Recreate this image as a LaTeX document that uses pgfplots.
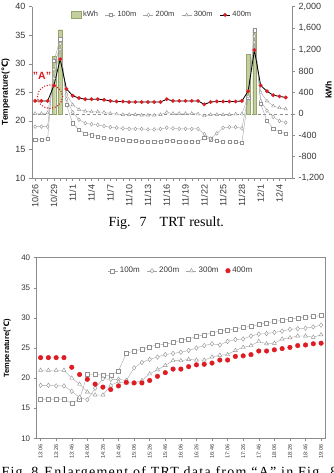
\documentclass[border=0pt]{standalone}
\usepackage{fontspec}
\setmainfont{Liberation Sans}
\newfontfamily\timesfont{Liberation Serif}
\newfontfamily\captwo[LetterSpace=9]{Liberation Serif}
\newfontfamily\dejavu{DejaVu Sans}
\usepackage{pgfplots}
\usepackage{pgfplotstable}
\pgfplotsset{compat=1.18}

\definecolor{kwhfill}{RGB}{196,207,160}
\definecolor{kwhdraw}{RGB}{150,165,105}
\definecolor{rd}{RGB}{222,28,36}
\definecolor{ln}{RGB}{165,165,165}
\definecolor{mk}{RGB}{145,145,145}
\definecolor{ax}{RGB}{140,140,140}
\definecolor{tl}{RGB}{55,55,55}

\pgfplotstableread{
d a b c e
0 16.7 19.0 21.3 23.5
1 16.7 19.0 21.3 23.5
2 16.9 19.0 21.4 23.5
3 30.5 29.0 27.5 26.2
4 34.3 33.5 32.5 30.8
5 22.8 23.8 24.7 25.6
6 19.6 21.5 22.8 24.4
7 18.4 20.2 22.0 24.0
8 17.8 19.6 21.7 23.8
9 17.5 19.4 21.6 23.8
10 17.3 19.3 21.6 23.8
11 17.1 19.1 21.5 23.7
12 16.9 18.9 21.3 23.5
13 16.8 18.8 21.2 23.4
14 16.7 18.7 21.1 23.4
15 16.6 18.6 21.1 23.3
16 16.5 18.6 21.1 23.3
17 16.4 18.6 21.0 23.3
18 16.3 18.5 21.0 23.3
19 16.3 18.5 21.0 23.3
20 16.4 18.6 21.1 23.3
21 16.6 18.8 21.5 23.8
22 16.5 18.7 21.3 23.5
23 16.4 18.6 21.3 23.5
24 16.4 18.6 21.3 23.5
25 16.4 18.6 21.3 23.5
26 16.4 18.6 21.2 23.5
27 17.0 17.7 20.9 22.9
28 16.8 16.9 21.1 23.3
29 16.5 17.8 21.1 23.4
30 16.3 18.8 21.1 23.4
31 16.3 18.9 21.1 23.4
32 16.3 18.9 21.2 23.4
33 16.2 18.7 21.2 23.5
34 24.0 24.3 24.3 25.2
35 35.9 34.8 33.8 32.4
36 23.0 23.5 25.0 26.2
37 20.0 21.8 23.5 25.2
38 18.7 20.7 22.6 24.5
39 18.1 20.0 22.3 24.3
40 17.7 19.7 22.1 24.1
}\tabA

\pgfplotstableread{
x k
3 1070
4 1570
34 1110
35 1590
}\tabK

\pgfplotstableread{
i a b c e
0 16.5 18.8 21.3 23.4
1 16.5 18.8 21.3 23.4
2 16.5 18.7 21.3 23.4
3 16.5 18.7 21.3 23.4
4 15.8 17.8 20.0 21.8
5 16.5 16.8 19.0 20.6
6 20.6 16.4 17.7 19.8
7 20.6 18.3 17.2 19.0
8 20.5 19.9 17.2 18.5
9 20.4 19.8 18.8 18.1
10 21.2 19.8 19.4 18.7
11 24.1 19.6 19.2 19.3
12 24.5 21.7 19.2 19.2
13 24.8 22.6 19.6 19.2
14 25.2 23.1 20.7 19.6
15 25.5 23.5 21.4 20.3
16 25.6 23.9 22.1 20.9
17 25.9 24.1 22.9 21.5
18 26.3 24.3 22.9 21.5
19 26.5 24.6 23.1 21.9
20 26.9 25.0 23.0 22.2
21 27.2 25.4 23.0 22.3
22 27.5 25.7 23.5 22.5
23 27.8 25.5 23.8 23.0
24 28.0 26.1 23.9 23.0
25 28.2 26.4 24.6 23.6
26 28.4 26.5 25.1 23.7
27 28.6 27.0 25.4 23.9
28 28.9 27.3 26.1 24.5
29 29.2 27.4 25.7 24.5
30 29.4 27.6 25.8 24.7
31 29.6 27.8 26.5 24.9
32 29.8 28.1 26.7 25.1
33 30.0 28.2 27.0 25.4
34 30.1 28.3 27.0 25.5
35 30.2 28.5 26.8 25.7
36 30.4 28.8 27.2 25.8
}\tabB

\pgfplotsset{
  s100/.style={color=ln, line width=0.4pt, mark=square*, mark size=#1,
    mark options={fill=white, draw=mk, line width=0.4pt, solid}},
  s200/.style={color=ln, line width=0.4pt, mark=diamond*, mark size=#1,
    mark options={fill=white, draw=mk, line width=0.4pt, solid}},
  s300/.style={color=ln, line width=0.4pt, mark=triangle*, mark size=#1,
    mark options={fill=white, draw=mk, line width=0.4pt, solid}},
  lineleg/.style={legend image code/.code={%
    \draw[mark repeat=2, mark phase=2] plot coordinates {(0pt,0pt) (5pt,0pt) (10pt,0pt)};}},
}

\begin{document}
\begin{tikzpicture}[x=1pt,y=1pt]
% ---------- Fig 7: kWh axis (behind) ----------
\begin{axis}[
  at={(32pt,295pt)}, anchor=south west, scale only axis,
  width=260pt, height=171.3pt,
  xmin=-0.5, xmax=41, ymin=-1200, ymax=2000,
  axis x line=none, axis y line*=right,
  axis line style={draw=ax, line width=0.6pt},
  tick align=outside, major tick length=3pt,
  tick style={draw=ax, line width=0.5pt},
  ytick={-1200,-800,...,2000},
  /pgf/number format/assume math mode=true,
  /pgf/number format/1000 sep={,},
  yticklabel style={font=\fontsize{9}{10}\selectfont, text=tl},
]
\addplot[draw=ax, line width=0.5pt, dash pattern=on 3pt off 2.5pt] coordinates {(-0.5,0) (41,0)};
\addplot[ybar, bar width=3.5pt, fill=kwhfill, draw=kwhdraw, line width=0.3pt] table[x=x,y=k]{\tabK};
\end{axis}
% ---------- Fig 7: temperature axis ----------
\begin{axis}[
  at={(32pt,295pt)}, anchor=south west, scale only axis,
  width=260pt, height=171.3pt,
  xmin=-0.5, xmax=41, ymin=10, ymax=40,
  axis x line*=bottom, axis y line*=left,
  axis line style={draw=ax, line width=0.6pt},
  tick align=outside, major tick length=3pt, minor tick length=3pt,
  tick style={draw=ax, line width=0.5pt},
  ytick={10,15,...,40},
  xtick={0,3,...,39},
  minor xtick={0,...,40},
  xticklabels={10/26,10/29,11/1,11/4,11/7,11/10,11/13,11/16,11/19,11/22,11/25,11/28,12/1,12/4},
  xticklabel style={rotate=90, anchor=east, font=\fontsize{9}{10}\selectfont, text=tl},
  yticklabel style={font=\fontsize{9}{10}\selectfont, text=tl},
  /pgf/number format/assume math mode=true,
  lineleg,
  legend style={at={(0.5,0.985)}, anchor=north, draw=none, fill=none,
    font=\fontsize{7.5}{8}\selectfont, text=tl, inner sep=0pt,
    /tikz/every even column/.append style={column sep=5pt}},
  legend columns=5,
]
\addlegendimage{legend image code/.code={\draw[fill=kwhfill, draw=kwhdraw, line width=0.3pt] (0pt,-3.5pt) rectangle (10pt,3.5pt);}}
\addlegendentry{kWh}
\addplot[s100=1.6pt] table[x=d,y=a]{\tabA};
\addlegendentry{100m}
\addplot[s200=1.9pt] table[x=d,y=b]{\tabA};
\addlegendentry{200m}
\addplot[s300=1.9pt] table[x=d,y=c]{\tabA};
\addlegendentry{300m}
\addplot[color=black, line width=0.8pt, mark=*, mark size=1.5pt, mark options={fill=rd, draw=rd}] table[x=d,y=e]{\tabA};
\addlegendentry{400m}
\end{axis}
% annotations Fig 7
\draw[rd, line width=1.5pt, line cap=round, dash pattern=on 0pt off 2.7pt] (50pt,376.3pt) ellipse [x radius=12.5pt, y radius=11.7pt];
\node[text=rd, font=\bfseries\fontsize{10.5}{11}\selectfont] at (42pt,397pt) {"A"};
\node[rotate=90, font=\bfseries\fontsize{8.5}{9}\selectfont, text=black] at (5.5pt,381pt) {Temperature({\dejavu\bfseries ℃})};
\node[rotate=90, font=\bfseries\fontsize{8.5}{9}\selectfont, text=black] at (328.5pt,383pt) {kWh};
\node[anchor=base west, font=\timesfont\fontsize{14}{15}\selectfont] at (105pt,246pt) {Fig.\hspace{9pt}7\hspace{13pt}TRT\hspace{4pt}result.};

% ---------- Fig 8 ----------
\begin{axis}[
  at={(36.7pt,34.7pt)}, anchor=south west, scale only axis,
  width=288.3pt, height=180.6pt,
  xmin=-0.5, xmax=36.5, ymin=10, ymax=40,
  axis line style={draw=ax, line width=0.6pt},
  tick align=outside, major tick length=3pt,
  tick style={draw=ax, line width=0.5pt},
  tick pos=left,
  ytick={10,15,...,40},
  xtick={0,2,...,36},
  xticklabels={13:06,13:26,13:46,14:06,14:26,14:46,15:06,15:26,15:46,16:06,16:26,16:46,17:06,17:26,17:46,18:06,18:26,18:46,19:06},
  xticklabel style={rotate=90, anchor=east, font=\fontsize{5.5}{6}\selectfont, text=tl},
  yticklabel style={font=\fontsize{8}{9}\selectfont, text=tl},
  /pgf/number format/assume math mode=true,
  lineleg,
  legend style={at={(0.5,0.928)}, anchor=center, draw=none, fill=none,
    font=\fontsize{8}{9}\selectfont, text=tl, inner sep=0pt,
    /tikz/every even column/.append style={column sep=5pt}},
  legend columns=4,
]
\addplot[s100=2pt] table[x=i,y=a]{\tabB};
\addlegendentry{100m}
\addplot[s200=2.3pt] table[x=i,y=b]{\tabB};
\addlegendentry{200m}
\addplot[s300=2.3pt] table[x=i,y=c]{\tabB};
\addlegendentry{300m}
\addplot[only marks, mark=*, mark size=2.3pt, mark options={fill=rd, draw=rd}] table[x=i,y=e]{\tabB};
\addlegendentry{400m}
\end{axis}
\node[rotate=90, font=\bfseries\fontsize{7.5}{8}\selectfont, text=black] at (7pt,125pt) {Temperature({\dejavu\bfseries ℃})};
\node[anchor=base west, font=\captwo\fontsize{14}{15}\selectfont] at (-2pt,-4pt) {Fig.\hspace{4pt}8\hspace{6pt}Enlargement of TRT data from “A” in Fig. 8};

\pgfresetboundingbox
\useasboundingbox (0pt,0pt) rectangle (333pt,473pt);
\end{tikzpicture}
\end{document}
